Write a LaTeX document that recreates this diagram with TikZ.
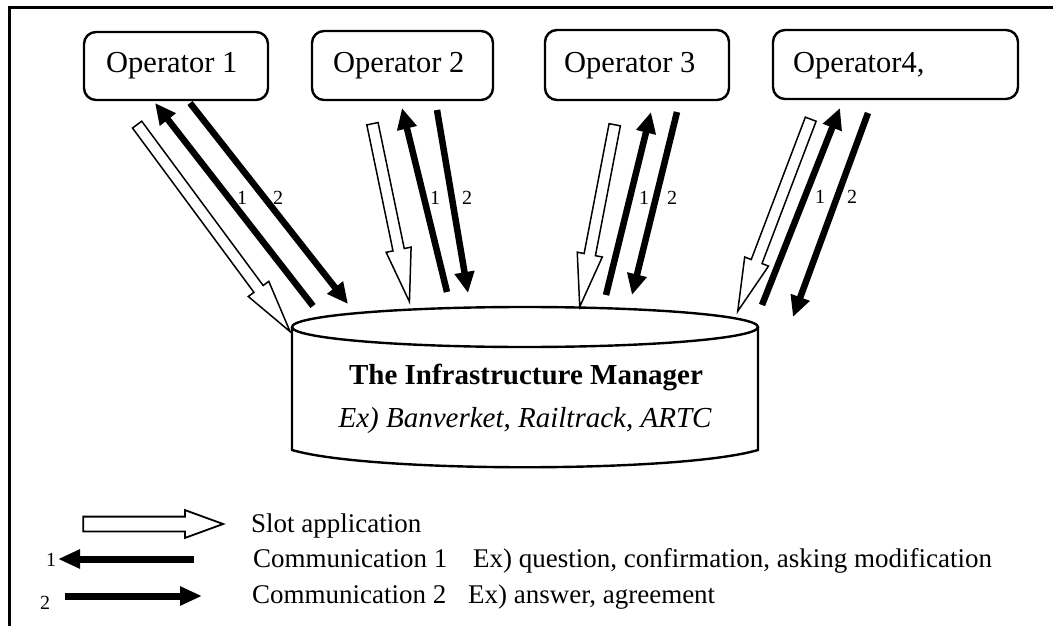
\documentclass[tikz,border=0pt]{standalone}
\usepackage{fontspec}
\setmainfont{Liberation Serif}
\usetikzlibrary{arrows.meta,calc,shapes.arrows}
\begin{document}
\begin{tikzpicture}[x=1pt,y=-1pt,
  frame/.style={line width=3pt},
  opbox/.style={draw,line width=2.4pt,rounded corners=12pt,inner sep=0pt},
  optext/.style={anchor=base west,inner sep=0pt,font=\fontsize{30.5}{36}\selectfont},
  cyl/.style={line width=2.4pt},
  hollowarr/.style={draw,line width=1.5pt,single arrow,inner xsep=0pt,inner ysep=5pt,
    minimum width=0pt,single arrow head extend=7pt,single arrow tip angle=27,
    single arrow head indent=0pt},
  legendhollow/.style={draw,line width=1.8pt,single arrow,inner xsep=0pt,inner ysep=6.5pt,
    minimum width=0pt,single arrow head extend=6.5pt,single arrow tip angle=40,
    single arrow head indent=0pt},
  commarr/.style={line width=6.5pt,-{Triangle[length=21pt,width=19pt]}},
  legendarr/.style={line width=7pt,-{Triangle[length=22pt,width=18pt]}},
  numlbl/.style={inner sep=0pt,font=\fontsize{20}{22}\selectfont},
  legtext/.style={anchor=base west,inner sep=0pt,font=\fontsize{27}{32}\selectfont}
]
\useasboundingbox (0,0) rectangle (1053,626);

% frame (top and left only)
\draw[frame] (9,626) -- (9,8) -- (1053,8);

% operator boxes
\node[opbox,minimum width=184pt,minimum height=68pt] (op1) at (176,66) {};
\node[opbox,minimum width=181pt,minimum height=69pt] (op2) at (402.5,65.5) {};
\node[opbox,minimum width=184pt,minimum height=70pt] (op3) at (637,65) {};
\node[opbox,minimum width=245pt,minimum height=69pt] (op4) at (895.5,64.5) {};
\node[optext] (op1t) at (106,73) {Operator 1};
\node[optext] (op2t) at (333,73) {Operator 2};
\node[optext] (op3t) at (564,73) {Operator 3};
\node[optext] (op4t) at (793,73) {Operator4,};

% cylinder
\draw[cyl] (292,327) -- (292,450) .. controls (370,473) and (680,473) .. (758,450) -- (758,327);
\draw[cyl] (525,327) ellipse [x radius=233, y radius=20];
\node[anchor=base,inner sep=0pt,font=\bfseries\fontsize{29}{34}\selectfont] (imt) at (526,384) {The Infrastructure Manager};
\node[anchor=base,inner sep=0pt,font=\itshape\fontsize{29}{34}\selectfont] (imx) at (525,427) {Ex) Banverket, Railtrack, ARTC};

% end points
\coordinate (h1a) at (130,115); \coordinate (h1b) at (283,322);
\coordinate (h2a) at (370,112); \coordinate (h2b) at (407,290);
\coordinate (h3a) at (617,113); \coordinate (h3b) at (582,295);
\coordinate (h4a) at (815,108); \coordinate (h4b) at (742,300);
\coordinate (c11a) at (313,306); \coordinate (c11b) at (155,103);
\coordinate (c12a) at (190,103); \coordinate (c12b) at (348,304);
\coordinate (c21a) at (447,292); \coordinate (c21b) at (402,108);
\coordinate (c22a) at (437,110); \coordinate (c22b) at (468,293);
\coordinate (c31a) at (606,295); \coordinate (c31b) at (651,112);
\coordinate (c32a) at (677,112); \coordinate (c32b) at (632,295);
\coordinate (c41a) at (762,305); \coordinate (c41b) at (840,108);
\coordinate (c42a) at (868,113); \coordinate (c42b) at (793,317);

% hollow slot application arrows
\foreach \i in {1,2,3,4}{
  \path let \p1=($(h\i b)-(h\i a)$), \n1={atan2(\y1,\x1)}, \n2={veclen(\x1,\y1)} in
    node[hollowarr,minimum height=\n2,rotate=\n1] (ha\i) at ($(h\i a)!0.5!(h\i b)$) {};
}

% communication arrows
\foreach \i in {1,2,3,4}{
  \draw[commarr] (c\i 1a) -- (c\i 1b);
  \draw[commarr] (c\i 2a) -- (c\i 2b);
}

% labels
\node[numlbl] (n11) at (242,198) {1};
\node[numlbl] (n12) at (278,198) {2};
\node[numlbl] (n21) at (435,198) {1};
\node[numlbl] (n22) at (467,198) {2};
\node[numlbl] (n31) at (644,198) {1};
\node[numlbl] (n32) at (672,198) {2};
\node[numlbl] (n41) at (820,197) {1};
\node[numlbl] (n42) at (852,197) {2};

% legend
\coordinate (lha) at (73,524); \coordinate (lhb) at (213,524);
\path let \p1=($(lhb)-(lha)$), \n2={veclen(\x1,\y1)} in
  node[legendhollow,minimum height=\n2] (lh) at ($(lha)!0.5!(lhb)$) {};
\coordinate (l1a) at (194,559); \coordinate (l1b) at (58,559);
\coordinate (l2a) at (65,596); \coordinate (l2b) at (202,596);
\draw[legendarr] (l1a) -- (l1b);
\draw[legendarr] (l2a) -- (l2b);
\node[numlbl,anchor=base] (ln1) at (51,566) {1};
\node[numlbl,anchor=base] (ln2) at (45,609) {2};
\node[legtext] (lt0) at (251,532) {Slot application};
\node[legtext] (lt1) at (253,567) {Communication 1};
\node[legtext] (lt1b) at (473,567) {Ex) question, confirmation, asking modification};
\node[legtext] (lt2) at (252,603) {Communication 2};
\node[legtext] (lt2b) at (468,603) {Ex) answer, agreement};
\end{tikzpicture}
\end{document}
